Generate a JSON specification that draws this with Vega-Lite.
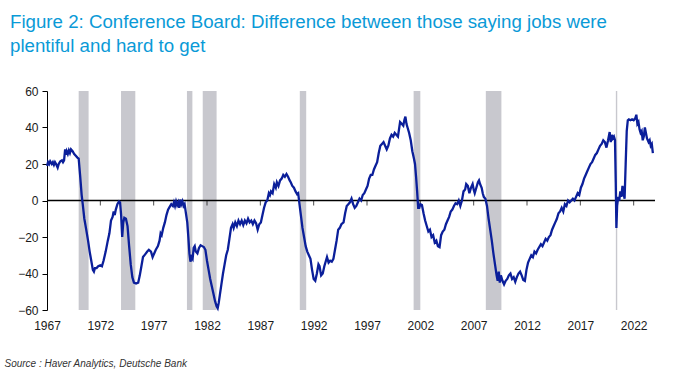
{
  "$schema": "https://vega.github.io/schema/vega-lite/v6.json",
  "width": 608,
  "height": 219,
  "autosize": "none",
  "padding": {"left": 47, "top": 91, "right": 23, "bottom": 75},
  "background": "white",
  "title": {
    "text": ["Figure 2: Conference Board: Difference between those saying jobs were", "plentiful and hard to get"],
    "anchor": "start",
    "frame": "group",
    "dx": -37,
    "offset": 29,
    "fontSize": 18.7,
    "font": "Liberation Sans",
    "fontWeight": "normal",
    "color": "#0a9ad7",
    "lineHeight": 24
  },
  "datasets": {
    "recessions": [
      {"start": 1969.97, "end": 1970.9},
      {"start": 1973.94, "end": 1975.28},
      {"start": 1980.12, "end": 1980.63},
      {"start": 1981.6, "end": 1982.9},
      {"start": 1990.7, "end": 1991.3},
      {"start": 2001.37, "end": 2002.0},
      {"start": 2008.14, "end": 2009.6},
      {"start": 2020.33, "end": 2020.46}
    ],
    "zero": [{"value": 0}],
    "ticks": [
      {"year": 1972, "value": 0}, {"year": 1977, "value": 0}, {"year": 1982, "value": 0}, {"year": 1987, "value": 0},
      {"year": 1992, "value": 0}, {"year": 1997, "value": 0}, {"year": 2002, "value": 0}, {"year": 2007, "value": 0},
      {"year": 2012, "value": 0}, {"year": 2017, "value": 0}, {"year": 2022, "value": 0}
    ],
    "series": [
      {"year": 1967.00, "value": 19}, {"year": 1967.10, "value": 21}, {"year": 1967.20, "value": 20}, {"year": 1967.30, "value": 21.5},
      {"year": 1967.45, "value": 20}, {"year": 1967.55, "value": 21}, {"year": 1967.65, "value": 19.5}, {"year": 1967.75, "value": 21},
      {"year": 1967.85, "value": 20}, {"year": 1968.00, "value": 18}, {"year": 1968.10, "value": 20}, {"year": 1968.25, "value": 21.5},
      {"year": 1968.40, "value": 22}, {"year": 1968.50, "value": 21}, {"year": 1968.60, "value": 22}, {"year": 1968.70, "value": 28},
      {"year": 1968.78, "value": 25}, {"year": 1968.85, "value": 27}, {"year": 1968.95, "value": 25.5}, {"year": 1969.05, "value": 27.5},
      {"year": 1969.15, "value": 26}, {"year": 1969.25, "value": 28}, {"year": 1969.40, "value": 27}, {"year": 1969.55, "value": 25.5},
      {"year": 1969.70, "value": 24.5}, {"year": 1969.85, "value": 23.5}, {"year": 1969.97, "value": 23}, {"year": 1970.10, "value": 14},
      {"year": 1970.25, "value": 3}, {"year": 1970.35, "value": -2}, {"year": 1970.50, "value": -10}, {"year": 1970.65, "value": -15},
      {"year": 1970.85, "value": -22}, {"year": 1971.00, "value": -28}, {"year": 1971.15, "value": -33}, {"year": 1971.30, "value": -38},
      {"year": 1971.40, "value": -39}, {"year": 1971.50, "value": -37}, {"year": 1971.65, "value": -37}, {"year": 1971.80, "value": -36},
      {"year": 1972.00, "value": -35.5}, {"year": 1972.15, "value": -36}, {"year": 1972.30, "value": -33}, {"year": 1972.50, "value": -28},
      {"year": 1972.70, "value": -22}, {"year": 1972.85, "value": -18}, {"year": 1973.00, "value": -11}, {"year": 1973.15, "value": -9},
      {"year": 1973.25, "value": -6}, {"year": 1973.35, "value": -8}, {"year": 1973.45, "value": -5}, {"year": 1973.60, "value": -2},
      {"year": 1973.75, "value": -0.5}, {"year": 1973.85, "value": -1}, {"year": 1973.95, "value": -8}, {"year": 1974.05, "value": -20},
      {"year": 1974.15, "value": -12}, {"year": 1974.25, "value": -9.5}, {"year": 1974.40, "value": -10}, {"year": 1974.55, "value": -14},
      {"year": 1974.70, "value": -25}, {"year": 1974.85, "value": -35}, {"year": 1975.00, "value": -42}, {"year": 1975.15, "value": -45},
      {"year": 1975.35, "value": -45.5}, {"year": 1975.55, "value": -45}, {"year": 1975.70, "value": -41}, {"year": 1975.85, "value": -36},
      {"year": 1976.00, "value": -31}, {"year": 1976.20, "value": -29.5}, {"year": 1976.40, "value": -28}, {"year": 1976.55, "value": -27},
      {"year": 1976.75, "value": -28}, {"year": 1976.90, "value": -31}, {"year": 1977.05, "value": -29}, {"year": 1977.20, "value": -27},
      {"year": 1977.40, "value": -25}, {"year": 1977.55, "value": -22}, {"year": 1977.65, "value": -18}, {"year": 1977.75, "value": -19},
      {"year": 1977.90, "value": -15}, {"year": 1978.05, "value": -12}, {"year": 1978.20, "value": -8}, {"year": 1978.35, "value": -5},
      {"year": 1978.50, "value": -3.5}, {"year": 1978.65, "value": -2}, {"year": 1978.80, "value": -3}, {"year": 1978.90, "value": -1},
      {"year": 1979.00, "value": -3}, {"year": 1979.10, "value": -0.5}, {"year": 1979.20, "value": -2.5}, {"year": 1979.30, "value": -1},
      {"year": 1979.40, "value": -4}, {"year": 1979.50, "value": 0.5}, {"year": 1979.60, "value": -2}, {"year": 1979.70, "value": -0.5},
      {"year": 1979.80, "value": -3}, {"year": 1979.90, "value": -2}, {"year": 1980.05, "value": -8}, {"year": 1980.15, "value": -12},
      {"year": 1980.25, "value": -20}, {"year": 1980.35, "value": -29}, {"year": 1980.45, "value": -33.5}, {"year": 1980.55, "value": -31},
      {"year": 1980.65, "value": -32}, {"year": 1980.75, "value": -26}, {"year": 1980.85, "value": -25}, {"year": 1980.95, "value": -28},
      {"year": 1981.10, "value": -29}, {"year": 1981.25, "value": -26}, {"year": 1981.40, "value": -24.5}, {"year": 1981.55, "value": -25},
      {"year": 1981.70, "value": -25.5}, {"year": 1981.85, "value": -27}, {"year": 1982.00, "value": -33}, {"year": 1982.15, "value": -38},
      {"year": 1982.30, "value": -43}, {"year": 1982.45, "value": -47}, {"year": 1982.60, "value": -51}, {"year": 1982.75, "value": -55},
      {"year": 1982.90, "value": -58}, {"year": 1983.00, "value": -59}, {"year": 1983.10, "value": -56}, {"year": 1983.20, "value": -52},
      {"year": 1983.35, "value": -46}, {"year": 1983.50, "value": -40}, {"year": 1983.65, "value": -35}, {"year": 1983.80, "value": -30},
      {"year": 1983.95, "value": -27}, {"year": 1984.10, "value": -21}, {"year": 1984.25, "value": -15}, {"year": 1984.40, "value": -13},
      {"year": 1984.50, "value": -15}, {"year": 1984.65, "value": -12}, {"year": 1984.80, "value": -14}, {"year": 1984.95, "value": -11},
      {"year": 1985.10, "value": -13}, {"year": 1985.25, "value": -11}, {"year": 1985.40, "value": -13.5}, {"year": 1985.55, "value": -11},
      {"year": 1985.70, "value": -12.5}, {"year": 1985.85, "value": -10}, {"year": 1986.00, "value": -12}, {"year": 1986.15, "value": -11},
      {"year": 1986.30, "value": -13}, {"year": 1986.45, "value": -11}, {"year": 1986.60, "value": -12.5}, {"year": 1986.75, "value": -16},
      {"year": 1986.90, "value": -13}, {"year": 1987.05, "value": -12}, {"year": 1987.20, "value": -8}, {"year": 1987.35, "value": -4},
      {"year": 1987.50, "value": -1}, {"year": 1987.65, "value": 0}, {"year": 1987.80, "value": 4}, {"year": 1987.90, "value": 3},
      {"year": 1988.00, "value": 5}, {"year": 1988.15, "value": 4}, {"year": 1988.30, "value": 9}, {"year": 1988.45, "value": 7},
      {"year": 1988.55, "value": 10}, {"year": 1988.70, "value": 8}, {"year": 1988.85, "value": 11}, {"year": 1989.00, "value": 12},
      {"year": 1989.15, "value": 14}, {"year": 1989.30, "value": 13}, {"year": 1989.45, "value": 14.5}, {"year": 1989.60, "value": 13},
      {"year": 1989.75, "value": 11}, {"year": 1989.85, "value": 10}, {"year": 1990.00, "value": 8}, {"year": 1990.15, "value": 7},
      {"year": 1990.30, "value": 5}, {"year": 1990.45, "value": 3.5}, {"year": 1990.55, "value": 4}, {"year": 1990.65, "value": -1},
      {"year": 1990.80, "value": -8}, {"year": 1990.95, "value": -15}, {"year": 1991.10, "value": -20}, {"year": 1991.25, "value": -25},
      {"year": 1991.40, "value": -28}, {"year": 1991.55, "value": -30}, {"year": 1991.70, "value": -32}, {"year": 1991.85, "value": -38},
      {"year": 1992.00, "value": -43}, {"year": 1992.15, "value": -44}, {"year": 1992.30, "value": -40}, {"year": 1992.45, "value": -35},
      {"year": 1992.55, "value": -36}, {"year": 1992.70, "value": -41}, {"year": 1992.85, "value": -40}, {"year": 1993.00, "value": -36},
      {"year": 1993.15, "value": -33}, {"year": 1993.25, "value": -31}, {"year": 1993.40, "value": -34}, {"year": 1993.55, "value": -33},
      {"year": 1993.70, "value": -33.5}, {"year": 1993.85, "value": -32}, {"year": 1994.00, "value": -27}, {"year": 1994.15, "value": -22},
      {"year": 1994.30, "value": -16}, {"year": 1994.45, "value": -15}, {"year": 1994.60, "value": -13}, {"year": 1994.80, "value": -12},
      {"year": 1994.95, "value": -7}, {"year": 1995.10, "value": -3}, {"year": 1995.25, "value": -2}, {"year": 1995.40, "value": -1},
      {"year": 1995.55, "value": 1}, {"year": 1995.70, "value": -2}, {"year": 1995.85, "value": -4}, {"year": 1996.00, "value": -3},
      {"year": 1996.15, "value": -1}, {"year": 1996.30, "value": 1}, {"year": 1996.45, "value": 0}, {"year": 1996.60, "value": 3},
      {"year": 1996.75, "value": 4}, {"year": 1996.90, "value": 6}, {"year": 1997.05, "value": 8}, {"year": 1997.20, "value": 12},
      {"year": 1997.35, "value": 14}, {"year": 1997.50, "value": 14}, {"year": 1997.65, "value": 17}, {"year": 1997.80, "value": 19},
      {"year": 1997.95, "value": 21}, {"year": 1998.10, "value": 26}, {"year": 1998.25, "value": 30}, {"year": 1998.40, "value": 31},
      {"year": 1998.55, "value": 32}, {"year": 1998.70, "value": 30}, {"year": 1998.85, "value": 28}, {"year": 1999.00, "value": 30},
      {"year": 1999.15, "value": 34}, {"year": 1999.30, "value": 36}, {"year": 1999.45, "value": 35}, {"year": 1999.60, "value": 37},
      {"year": 1999.75, "value": 36}, {"year": 1999.90, "value": 35}, {"year": 2000.00, "value": 39}, {"year": 2000.10, "value": 43},
      {"year": 2000.25, "value": 42}, {"year": 2000.40, "value": 41}, {"year": 2000.50, "value": 44}, {"year": 2000.60, "value": 46},
      {"year": 2000.70, "value": 42}, {"year": 2000.80, "value": 40}, {"year": 2000.95, "value": 37}, {"year": 2001.10, "value": 33},
      {"year": 2001.25, "value": 27}, {"year": 2001.40, "value": 23}, {"year": 2001.50, "value": 20}, {"year": 2001.60, "value": 13},
      {"year": 2001.70, "value": 5}, {"year": 2001.80, "value": -4}, {"year": 2001.90, "value": -4}, {"year": 2002.00, "value": -2},
      {"year": 2002.15, "value": -2.5}, {"year": 2002.30, "value": -7}, {"year": 2002.45, "value": -11}, {"year": 2002.60, "value": -14},
      {"year": 2002.75, "value": -17}, {"year": 2002.90, "value": -16}, {"year": 2003.05, "value": -20}, {"year": 2003.20, "value": -19},
      {"year": 2003.35, "value": -23}, {"year": 2003.50, "value": -22}, {"year": 2003.65, "value": -25}, {"year": 2003.80, "value": -25.5},
      {"year": 2003.95, "value": -19}, {"year": 2004.10, "value": -17}, {"year": 2004.25, "value": -16}, {"year": 2004.40, "value": -13},
      {"year": 2004.55, "value": -11}, {"year": 2004.70, "value": -9}, {"year": 2004.85, "value": -6}, {"year": 2005.00, "value": -5},
      {"year": 2005.15, "value": -3}, {"year": 2005.30, "value": -1.5}, {"year": 2005.45, "value": -2}, {"year": 2005.60, "value": 0},
      {"year": 2005.75, "value": -3}, {"year": 2005.90, "value": 0}, {"year": 2006.05, "value": 5}, {"year": 2006.20, "value": 6},
      {"year": 2006.30, "value": 9}, {"year": 2006.45, "value": 8}, {"year": 2006.60, "value": 4}, {"year": 2006.75, "value": 7},
      {"year": 2006.90, "value": 9}, {"year": 2007.00, "value": 6}, {"year": 2007.10, "value": 4}, {"year": 2007.25, "value": 7},
      {"year": 2007.40, "value": 10}, {"year": 2007.50, "value": 11}, {"year": 2007.60, "value": 9}, {"year": 2007.75, "value": 7},
      {"year": 2007.85, "value": 4}, {"year": 2007.95, "value": 2}, {"year": 2008.10, "value": 1}, {"year": 2008.25, "value": -3},
      {"year": 2008.40, "value": -10}, {"year": 2008.55, "value": -16}, {"year": 2008.70, "value": -22}, {"year": 2008.85, "value": -29},
      {"year": 2009.00, "value": -35}, {"year": 2009.15, "value": -41}, {"year": 2009.25, "value": -44}, {"year": 2009.35, "value": -39},
      {"year": 2009.45, "value": -45}, {"year": 2009.55, "value": -41}, {"year": 2009.70, "value": -44}, {"year": 2009.85, "value": -46},
      {"year": 2010.00, "value": -44}, {"year": 2010.15, "value": -43}, {"year": 2010.30, "value": -41}, {"year": 2010.45, "value": -40},
      {"year": 2010.60, "value": -43}, {"year": 2010.75, "value": -42}, {"year": 2010.90, "value": -44.5}, {"year": 2011.05, "value": -42},
      {"year": 2011.20, "value": -40}, {"year": 2011.35, "value": -39}, {"year": 2011.50, "value": -41}, {"year": 2011.65, "value": -43.5},
      {"year": 2011.80, "value": -44}, {"year": 2011.95, "value": -38}, {"year": 2012.10, "value": -34}, {"year": 2012.25, "value": -32},
      {"year": 2012.40, "value": -30}, {"year": 2012.55, "value": -31}, {"year": 2012.70, "value": -28}, {"year": 2012.85, "value": -29},
      {"year": 2013.00, "value": -27}, {"year": 2013.15, "value": -25.5}, {"year": 2013.30, "value": -24}, {"year": 2013.45, "value": -25},
      {"year": 2013.60, "value": -23}, {"year": 2013.75, "value": -21}, {"year": 2013.90, "value": -22}, {"year": 2014.05, "value": -20},
      {"year": 2014.20, "value": -19}, {"year": 2014.35, "value": -16}, {"year": 2014.50, "value": -14}, {"year": 2014.65, "value": -12},
      {"year": 2014.80, "value": -10}, {"year": 2014.95, "value": -7}, {"year": 2015.10, "value": -6}, {"year": 2015.25, "value": -4},
      {"year": 2015.40, "value": -6}, {"year": 2015.55, "value": -2}, {"year": 2015.70, "value": -3}, {"year": 2015.85, "value": 0},
      {"year": 2016.00, "value": -1}, {"year": 2016.15, "value": 0}, {"year": 2016.30, "value": 1}, {"year": 2016.45, "value": 0},
      {"year": 2016.60, "value": 2}, {"year": 2016.75, "value": 4}, {"year": 2016.90, "value": 3}, {"year": 2017.05, "value": 7},
      {"year": 2017.20, "value": 9}, {"year": 2017.35, "value": 12}, {"year": 2017.50, "value": 14}, {"year": 2017.65, "value": 16},
      {"year": 2017.80, "value": 18}, {"year": 2017.95, "value": 20}, {"year": 2018.10, "value": 21}, {"year": 2018.25, "value": 23},
      {"year": 2018.40, "value": 25}, {"year": 2018.55, "value": 26}, {"year": 2018.70, "value": 28}, {"year": 2018.85, "value": 30},
      {"year": 2019.00, "value": 31}, {"year": 2019.15, "value": 33}, {"year": 2019.30, "value": 32}, {"year": 2019.45, "value": 29},
      {"year": 2019.60, "value": 33}, {"year": 2019.75, "value": 37.5}, {"year": 2019.85, "value": 32}, {"year": 2019.95, "value": 36},
      {"year": 2020.05, "value": 34}, {"year": 2020.15, "value": 35}, {"year": 2020.25, "value": 33}, {"year": 2020.32, "value": 10},
      {"year": 2020.38, "value": -15}, {"year": 2020.45, "value": -3}, {"year": 2020.55, "value": 2}, {"year": 2020.65, "value": 0},
      {"year": 2020.75, "value": 5}, {"year": 2020.85, "value": 2}, {"year": 2020.95, "value": 8}, {"year": 2021.05, "value": 4},
      {"year": 2021.15, "value": 1}, {"year": 2021.25, "value": 20}, {"year": 2021.35, "value": 38}, {"year": 2021.45, "value": 44},
      {"year": 2021.55, "value": 44.5}, {"year": 2021.70, "value": 44}, {"year": 2021.85, "value": 44.5}, {"year": 2022.00, "value": 44},
      {"year": 2022.15, "value": 45}, {"year": 2022.25, "value": 47}, {"year": 2022.35, "value": 42}, {"year": 2022.45, "value": 43},
      {"year": 2022.55, "value": 39}, {"year": 2022.65, "value": 37}, {"year": 2022.75, "value": 38}, {"year": 2022.85, "value": 33},
      {"year": 2022.95, "value": 35}, {"year": 2023.05, "value": 40}, {"year": 2023.15, "value": 37}, {"year": 2023.25, "value": 34},
      {"year": 2023.40, "value": 32}, {"year": 2023.50, "value": 33}, {"year": 2023.60, "value": 30}, {"year": 2023.70, "value": 31},
      {"year": 2023.80, "value": 26}
    ]
  },
  "layer": [
    {
      "data": {"name": "recessions"},
      "mark": {"type": "rect", "color": "#c8c8ce"},
      "encoding": {
        "x": {"field": "start", "type": "quantitative", "title": "Source : Haver Analytics, Deutsche Bank",
          "scale": {"domain": [1967, 2024], "nice": false, "zero": false},
          "axis": {
            "values": [1967, 1972, 1977, 1982, 1987, 1992, 1997, 2002, 2007, 2012, 2017, 2022],
            "format": "d", "domain": false, "ticks": false, "grid": false,
            "labelFont": "Liberation Sans", "labelFontSize": 12, "labelColor": "#1a1a1a", "labelPadding": 10,
            "labelFlush": false, "labelOverlap": false,
            "titleFont": "Liberation Sans", "titleFontStyle": "italic", "titleFontWeight": "normal", "titleFontSize": 10,
            "titleColor": "#333333", "titleAnchor": "start", "titleAlign": "left", "titleBaseline": "alphabetic",
            "titleX": -43, "titleY": 56
          }
        },
        "x2": {"field": "end"}
      }
    },
    {
      "encoding": {
        "y": {"field": "value", "type": "quantitative", "title": null,
          "scale": {"domain": [-60, 60], "nice": false, "zero": false},
          "axis": {
            "values": [-60, -40, -20, 0, 20, 40, 60],
            "domain": true, "domainColor": "#000000", "domainWidth": 1,
            "ticks": true, "tickColor": "#000000", "tickSize": 5, "grid": false,
            "labelFont": "Liberation Sans", "labelFontSize": 12, "labelColor": "#1a1a1a", "labelPadding": 4,
            "labelOverlap": false, "labelFlush": false
          }
        }
      },
      "layer": [
        {
          "data": {"name": "zero"},
          "mark": {"type": "rule", "color": "#000000", "strokeWidth": 1.5}
        },
        {
          "data": {"name": "ticks"},
          "mark": {"type": "tick", "orient": "vertical", "color": "#000000", "thickness": 1, "size": 5, "yOffset": 2.5},
          "encoding": {
            "x": {"field": "year", "type": "quantitative", "title": "Source : Haver Analytics, Deutsche Bank"}
          }
        },
        {
          "data": {"name": "series"},
          "mark": {"type": "line", "color": "#0b1f9a", "strokeWidth": 2.3},
          "encoding": {
            "x": {"field": "year", "type": "quantitative", "title": "Source : Haver Analytics, Deutsche Bank"}
          }
        }
      ]
    }
  ],
  "config": {"view": {"stroke": null}, "axis": {"labelOverlap": false}}
}
